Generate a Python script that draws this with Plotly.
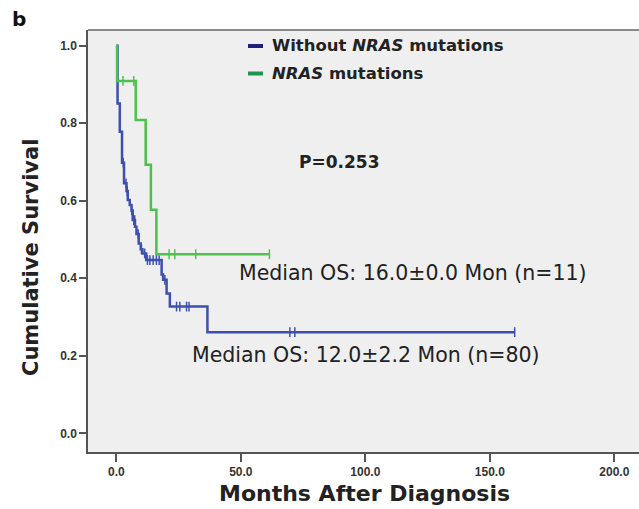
import numpy as np
import plotly.graph_objects as go

# ---- data ----
blue_name = "Without NRAS mutations"
blue_times = [0.5, 1.4, 2.3, 3.1, 4.1, 4.6, 5.4, 6.1, 6.6, 7.5, 8.1, 9.0, 9.8, 10.5, 12.0, 18.2, 18.8, 20.2, 21.5, 36.6]
blue_surv = [0.851, 0.778, 0.698, 0.645, 0.625, 0.602, 0.589, 0.575, 0.550, 0.533, 0.514, 0.490, 0.475, 0.464, 0.447, 0.410, 0.396, 0.361, 0.327, 0.261]
blue_end = 160.0
blue_censor = [2.8, 3.9, 4.4, 6.2, 7.0, 7.4, 8.8, 10.1, 11.4, 12.5, 13.5, 14.8, 16.1, 17.2, 19.5, 24.2, 25.5, 28.2, 29.2, 69.7, 71.7, 160.0]

green_name = "NRAS mutations"
green_times = [0.3, 7.8, 11.8, 13.9, 16.1]
green_surv = [0.909, 0.808, 0.693, 0.577, 0.462]
green_end = 61.5
green_censor = [2.7, 7.0, 21.2, 23.5, 31.9, 61.5]

x_ticks = [0, 50, 100, 150, 200]
y_ticks = [0.0, 0.2, 0.4, 0.6, 0.8, 1.0]

p_text = "P=0.253"
median_green = "Median OS: 16.0\u00b10.0 Mon (n=11)"
median_blue = "Median OS: 12.0\u00b12.2 Mon (n=80)"

# ---- styles ----
BLUE = "#3d50b0"
GREEN = "#4cc24c"
LEG_BLUE = "#1f1f7a"
LEG_GREEN = "#1a9650"
TXT = "#222222"
FONT = "DejaVu Sans"

W, H = 639, 509
L, R, T, B = 88, 0, 30, 57
PW, PH = W - L - R, H - T - B


def px_x(px):
    return (px - L) / PW


def px_y(py):
    return (H - B - py) / PH


def step_xy(times, surv, end):
    x = [0.0] + list(times) + [end]
    y = [1.0] + list(surv) + [surv[-1]]
    return x, y


def censor_y(times, surv, ct):
    t = np.array([0.0] + list(times))
    s = np.array([1.0] + list(surv))
    idx = np.searchsorted(t, np.array(ct), side="right") - 1
    return s[idx]


fig = go.Figure()
for times, surv, end, cens, col, name in [
    (blue_times, blue_surv, blue_end, blue_censor, BLUE, blue_name),
    (green_times, green_surv, green_end, green_censor, GREEN, green_name),
]:
    x, y = step_xy(times, surv, end)
    fig.add_trace(go.Scatter(x=x, y=y, mode="lines", line=dict(color=col, width=2.5, shape="hv"),
                             name=name, showlegend=False, hoverinfo="skip"))
    fig.add_trace(go.Scatter(x=cens, y=censor_y(times, surv, cens), mode="markers",
                             marker=dict(symbol="line-ns", size=7, line=dict(color=col, width=1.5)),
                             showlegend=False, hoverinfo="skip"))

annotations = [
    dict(text="<b>b</b>", x=px_x(10), y=px_y(19), xanchor="left", yanchor="middle",
         font=dict(family=FONT, size=20, color="#111")),
    dict(text="<b>Without <i>NRAS</i> mutations</b>", x=px_x(270), y=px_y(46), xanchor="left", yanchor="middle",
         font=dict(family=FONT, size=16.5, color=TXT)),
    dict(text="<b><i>NRAS</i> mutations</b>", x=px_x(270), y=px_y(73.5), xanchor="left", yanchor="middle",
         font=dict(family=FONT, size=16.5, color=TXT)),
    dict(text="<b>" + p_text + "</b>", x=px_x(297), y=px_y(162), xanchor="left", yanchor="middle",
         font=dict(family=FONT, size=17, color=TXT)),
    dict(text=median_green, x=px_x(237), y=px_y(273), xanchor="left", yanchor="middle",
         font=dict(family=FONT, size=20.5, color=TXT)),
    dict(text=median_blue, x=px_x(190), y=px_y(355), xanchor="left", yanchor="middle",
         font=dict(family=FONT, size=20.5, color=TXT)),
    dict(text="<b>Cumulative Survival</b>", x=px_x(30.5), y=px_y(257.5), xanchor="center", yanchor="middle",
         textangle=-90, font=dict(family=FONT, size=21, color=TXT)),
    dict(text="<b>Months After Diagnosis</b>", x=px_x(364.5), y=px_y(493), xanchor="center", yanchor="middle",
         font=dict(family=FONT, size=22, color=TXT)),
]
for a in annotations:
    a.update(xref="paper", yref="paper", showarrow=False)

shapes = [
    dict(type="line", xref="paper", yref="paper", x0=0, x1=1.01, y0=1, y1=1, line=dict(color="#666", width=1.5)),
    dict(type="line", xref="paper", yref="paper", x0=px_x(248), x1=px_x(263), y0=px_y(46), y1=px_y(46),
         line=dict(color=LEG_BLUE, width=4)),
    dict(type="line", xref="paper", yref="paper", x0=px_x(248), x1=px_x(263), y0=px_y(73.5), y1=px_y(73.5),
         line=dict(color=LEG_GREEN, width=4)),
]

fig.update_layout(
    width=W, height=H,
    margin=dict(l=L, r=R, t=T, b=B),
    paper_bgcolor="white", plot_bgcolor="#efefef",
    showlegend=False,
    annotations=annotations, shapes=shapes,
    xaxis=dict(range=[(L - 116.3) / 2.49, (W - 116.3) / 2.49], tickvals=x_ticks, tickformat=".1f",
               showgrid=False, zeroline=False, showline=True, linecolor="#555", linewidth=1.5,
               ticks="outside", ticklen=8, tickwidth=1.5, tickcolor="#555",
               tickfont=dict(family="Liberation Sans", size=12, color="#333", weight="bold")),
    yaxis=dict(range=[-(H - B - 433.3) / 387.6, (433.3 - T) / 387.6], tickvals=y_ticks, tickformat=".1f",
               showgrid=False, zeroline=False, showline=True, linecolor="#555", linewidth=1.5,
               ticks="outside", ticklen=7, tickwidth=1.5, tickcolor="#555",
               tickfont=dict(family="Liberation Sans", size=12, color="#333", weight="bold")),
)

fig.write_html("out.html")
